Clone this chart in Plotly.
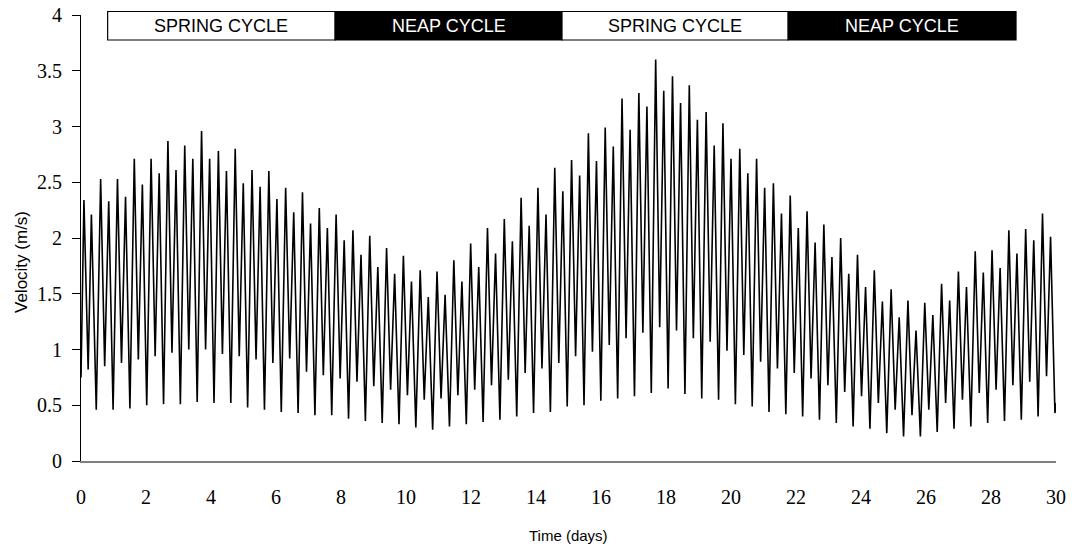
import plotly.graph_objects as go

# ---------------- data ----------------
# leading partial tide before the first full cycle
lead_days = [0.0, 0.09, 0.22, 0.32]
lead_vel = [0.75, 2.34, 0.82, 2.21]

first_trough_day = 0.47
tidal_period_days = 0.5175  # semidiurnal (M2) period

# deep troughs, one per tidal cycle
deep_trough = [0.46, 0.46, 0.47, 0.50, 0.51, 0.51, 0.53, 0.52, 0.52,
               0.48, 0.46, 0.44, 0.43, 0.41, 0.41, 0.38, 0.36, 0.34, 0.33,
               0.30, 0.28, 0.31, 0.33, 0.35, 0.37, 0.40, 0.43, 0.44, 0.49,
               0.50, 0.54, 0.56, 0.58, 0.61, 0.65, 0.60, 0.56, 0.55, 0.51,
               0.49, 0.44, 0.42, 0.40, 0.37, 0.34, 0.31, 0.29, 0.25,
               0.22, 0.22, 0.26, 0.29, 0.31, 0.34, 0.36, 0.37, 0.40, 0.43]
# first peak of each cycle
flood_peak = [2.53, 2.53, 2.71, 2.71, 2.87, 2.83, 2.96, 2.78, 2.80,
              2.61, 2.60, 2.45, 2.41, 2.27, 2.21, 2.07, 2.02, 1.91, 1.84,
              1.71, 1.70, 1.80, 1.95, 2.09, 2.17, 2.36, 2.45, 2.63, 2.70,
              2.94, 2.99, 3.25, 3.30, 3.60, 3.45, 3.37, 3.13, 3.03, 2.80,
              2.71, 2.49, 2.38, 2.24, 2.12, 2.00, 1.85, 1.71, 1.54,
              1.44, 1.42, 1.59, 1.70, 1.88, 1.89, 2.07, 2.08, 2.22]
# shallow trough between the two peaks
slack_trough = [0.85, 0.88, 0.91, 0.94, 0.97, 1.00, 1.00, 0.96, 0.94,
                0.91, 0.88, 0.92, 0.80, 0.77, 0.74, 0.71, 0.67, 0.64, 0.59,
                0.55, 0.56, 0.59, 0.64, 0.68, 0.73, 0.79, 0.83, 0.88, 0.94,
                0.98, 1.04, 1.10, 1.15, 1.20, 1.17, 1.10, 1.07, 0.99, 0.95,
                0.89, 0.83, 0.79, 0.74, 0.68, 0.62, 0.58, 0.52, 0.46,
                0.41, 0.46, 0.52, 0.55, 0.61, 0.64, 0.68, 0.71, 0.76]
# second peak of each cycle
ebb_peak = [2.33, 2.37, 2.48, 2.58, 2.61, 2.71, 2.71, 2.60, 2.49,
            2.46, 2.35, 2.23, 2.13, 2.09, 1.98, 1.85, 1.74, 1.68, 1.61,
            1.47, 1.49, 1.61, 1.74, 1.86, 1.97, 2.11, 2.21, 2.42, 2.56,
            2.69, 2.82, 2.97, 3.18, 3.32, 3.21, 3.06, 2.83, 2.71, 2.58,
            2.45, 2.22, 2.09, 1.96, 1.83, 1.68, 1.56, 1.43, 1.29,
            1.17, 1.31, 1.44, 1.56, 1.69, 1.73, 1.86, 1.98, 2.01]
# phase (fraction of a cycle) of each reading within a cycle
phase_flood, phase_slack, phase_ebb = 0.26, 0.50, 0.74

tail_days = [30.0]
tail_vel = [0.52]

band_labels = ["SPRING CYCLE", "NEAP CYCLE", "SPRING CYCLE", "NEAP CYCLE"]
band_start = [0.82, 7.82, 14.80, 21.76]
band_end = [7.82, 14.80, 21.76, 28.77]
band_dark = [False, True, False, True]

x_ticks = list(range(0, 31, 2))
y_ticks = [0, 0.5, 1, 1.5, 2, 2.5, 3, 3.5, 4]

# ---------------- assemble the series ----------------
t = list(lead_days)
v = list(lead_vel)
for k, d in enumerate(deep_trough):
    t0 = first_trough_day + k * tidal_period_days
    t.append(t0)
    v.append(d)
    if k < len(flood_peak):
        t += [t0 + phase_flood * tidal_period_days,
              t0 + phase_slack * tidal_period_days,
              t0 + phase_ebb * tidal_period_days]
        v += [flood_peak[k], slack_trough[k], ebb_peak[k]]
t += tail_days
v += tail_vel

fig = go.Figure()
fig.add_trace(go.Scatter(x=t, y=v, mode="lines",
                         line=dict(color="black", width=1.6),
                         hoverinfo="skip", showlegend=False))

W, H = 1081, 546
L, R, T, B = 81, 25, 15, 85
PH = H - T - B
PW = W - L - R

shapes = []
annotations = []
y0p = (H - B - 40) / PH
y1p = (H - B - 11.5) / PH
for lab, s, e, dark in zip(band_labels, band_start, band_end, band_dark):
    shapes.append(dict(type="rect", xref="paper", yref="paper",
                       x0=s / 30, x1=e / 30, y0=y0p, y1=y1p,
                       fillcolor="black" if dark else "white",
                       line=dict(color="black", width=1.2), layer="above"))
    annotations.append(dict(xref="paper", yref="paper",
                            x=(s + e) / 60, y=(y0p + y1p) / 2,
                            text=lab, showarrow=False,
                            font=dict(family="Liberation Sans", size=18,
                                      color="white" if dark else "black"),
                            xanchor="center", yanchor="middle"))

# axis titles
annotations.append(dict(xref="paper", yref="paper", x=0.5,
                        y=-(535 - (H - B)) / PH, text="Time (days)",
                        showarrow=False, xanchor="center", yanchor="middle",
                        font=dict(family="Liberation Sans", size=15, color="black")))
annotations.append(dict(xref="paper", yref="paper", x=-(L - 21) / PW,
                        y=(H - B - 262) / PH, text="Velocity (m/s)", textangle=-90,
                        showarrow=False, xanchor="center", yanchor="middle",
                        font=dict(family="Liberation Sans", size=17, color="black")))

fig.update_layout(
    width=W, height=H,
    margin=dict(l=L, r=R, t=T, b=B, pad=0, autoexpand=False),
    paper_bgcolor="white", plot_bgcolor="white",
    shapes=shapes, annotations=annotations,
    xaxis=dict(range=[0, 30], tickvals=x_ticks, ticks="", automargin=False,
               showgrid=False, zeroline=False,
               showline=True, linecolor="#808080", linewidth=2,
               ticklabelstandoff=17,
               tickfont=dict(family="Liberation Serif", size=20, color="black")),
    yaxis=dict(range=[0, 4], tickvals=y_ticks, ticks="outside", ticklen=8,
               tickcolor="black", tickwidth=1, automargin=False,
               showgrid=False, zeroline=False,
               showline=True, linecolor="black", linewidth=1,
               ticklabelstandoff=6,
               tickfont=dict(family="Liberation Serif", size=20, color="black")),
)

fig.write_html("out.html")
